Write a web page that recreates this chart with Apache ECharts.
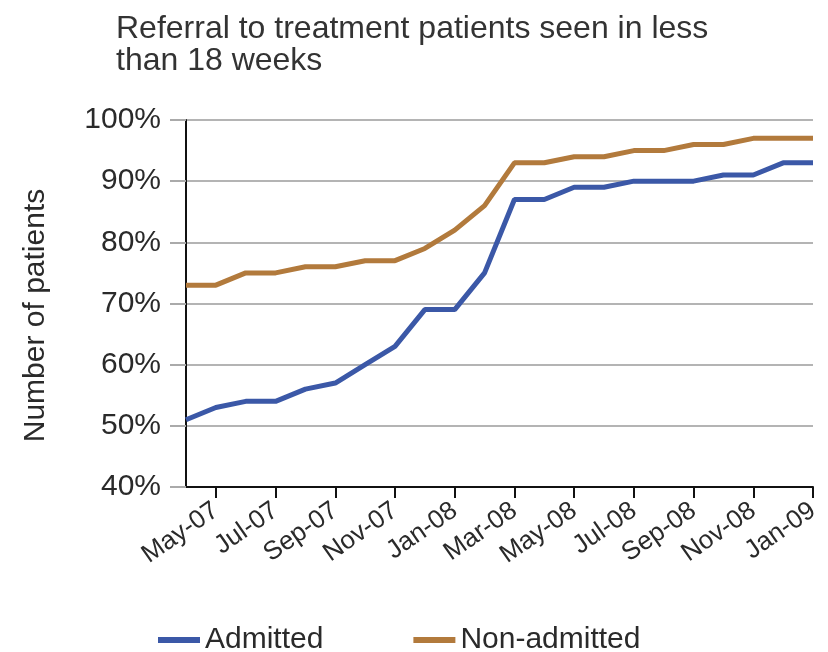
<!DOCTYPE html>
<html>
<head>
<meta charset="utf-8">
<script src="https://cdn.jsdelivr.net/npm/echarts@6/dist/echarts.min.js"></script>
<style>
  html, body { margin: 0; padding: 0; background: #ffffff; }
  #chart { width: 828px; height: 652px; }
</style>
</head>
<body>
<div id="chart"></div>
<script>
// Monthly categories, April 2007 to January 2009
const months = ['Apr-07','May-07','Jun-07','Jul-07','Aug-07','Sep-07','Oct-07','Nov-07','Dec-07',
                'Jan-08','Feb-08','Mar-08','Apr-08','May-08','Jun-08','Jul-08','Aug-08','Sep-08',
                'Oct-08','Nov-08','Dec-08','Jan-09'];
// Share of patients seen within 18 weeks (%)
const admitted    = [51,53,54,54,56,57,60,63,69,69,75,87,87,89,89,90,90,90,91,91,93,93];
const nonAdmitted = [73,73,75,75,76,76,77,77,79,82,86,93,93,94,94,95,95,96,96,97,97,97];
const yTicks = { min: 40, max: 100, step: 10 };

const FONT = 'Liberation Sans, Arial, sans-serif';
const TEXT = '#2a2a2a';
const everyOther = (i) => i % 2 === 1;

const chart = echarts.init(document.getElementById('chart'), null, { renderer: 'canvas' });
chart.setOption({
  backgroundColor: '#ffffff',
  animation: false,
  title: {
    text: 'Referral to treatment patients seen in less\nthan 18 weeks',
    left: 111,
    top: 8,
    textStyle: { fontFamily: FONT, fontSize: 32, fontWeight: 'normal', color: '#333', lineHeight: 32 }
  },
  legend: {
    left: 153,
    top: 620,
    itemWidth: 42,
    itemHeight: 6,
    itemGap: 90,
    icon: 'rect',
    textStyle: { fontFamily: FONT, fontSize: 30, color: TEXT },
    data: ['Admitted', 'Non-admitted']
  },
  grid: { left: 186, right: 15, top: 120, bottom: 165, containLabel: false },
  xAxis: {
    type: 'category',
    data: months,
    boundaryGap: false,
    axisLine: { lineStyle: { color: '#111', width: 2 } },
    axisTick: { show: true, interval: everyOther, length: 11, lineStyle: { color: '#111', width: 2 } },
    axisLabel: { interval: everyOther, rotate: 35, margin: 21, fontFamily: FONT, fontSize: 26, color: TEXT },
    splitLine: { show: false }
  },
  yAxis: {
    type: 'value',
    min: yTicks.min,
    max: yTicks.max,
    interval: yTicks.step,
    name: 'Number of patients',
    nameLocation: 'middle',
    nameGap: 135,
    nameTextStyle: { fontFamily: FONT, fontSize: 30, color: TEXT, padding: [0, 24, 0, 0] },
    axisLine: { show: true, lineStyle: { color: '#111', width: 2 } },
    axisTick: { show: true, length: 16, lineStyle: { color: '#aaaaaa', width: 2 } },
    axisLabel: { formatter: '{value}%', margin: 25, fontFamily: FONT, fontSize: 30, color: TEXT },
    splitLine: { show: true, lineStyle: { color: '#b4b4b4', width: 2 } }
  },
  series: [
    {
      name: 'Admitted',
      type: 'line',
      data: admitted,
      showSymbol: false,
      symbol: 'none',
      lineStyle: { width: 5, color: '#3b58a7' },
      itemStyle: { color: '#3b58a7' }
    },
    {
      name: 'Non-admitted',
      type: 'line',
      data: nonAdmitted,
      showSymbol: false,
      symbol: 'none',
      lineStyle: { width: 5, color: '#b27a3c' },
      itemStyle: { color: '#b27a3c' }
    }
  ]
});
</script>
</body>
</html>
